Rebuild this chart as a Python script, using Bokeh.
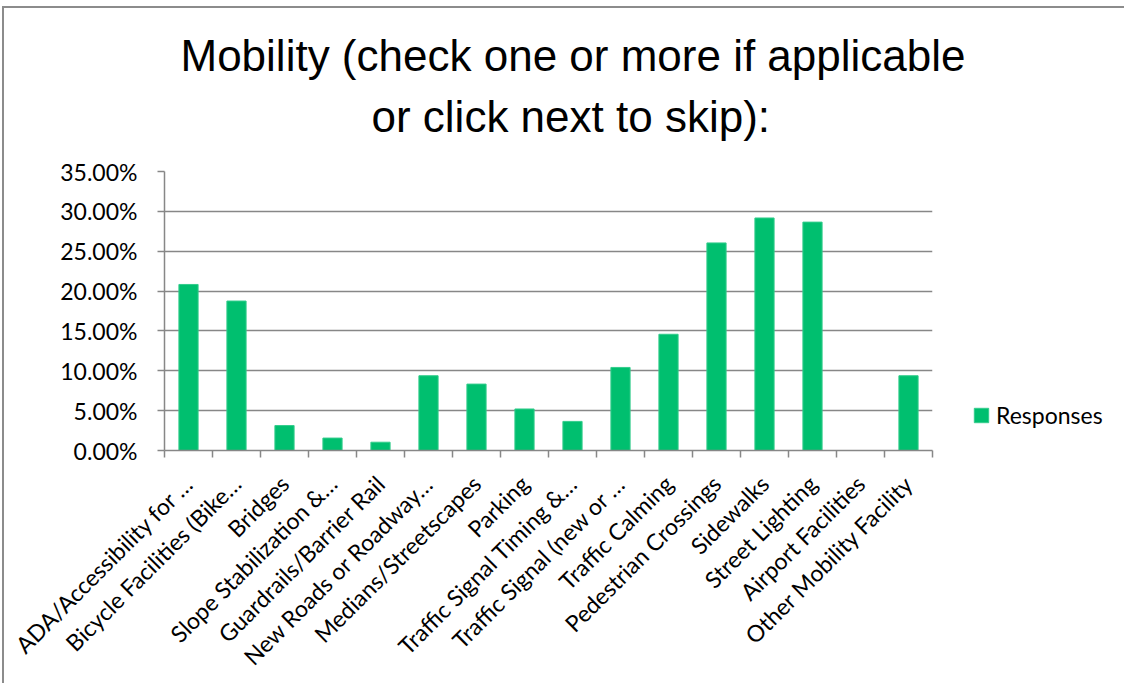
import numpy as np
from bokeh.plotting import figure
from bokeh.models import (ColumnDataSource, Range1d, FixedTicker, NumeralTickFormatter,
                          Title, Legend, LegendItem)
from bokeh.embed import file_html
from bokeh.resources import INLINE

# ---- data ----
categories = [
    "ADA/Accessibility for …",
    "Bicycle Facilities (Bike…",
    "Bridges",
    "Slope Stabilization &…",
    "Guardrails/Barrier Rail",
    "New Roads or Roadway…",
    "Medians/Streetscapes",
    "Parking",
    "Traffic Signal Timing &…",
    "Traffic Signal (new or …",
    "Traffic Calming",
    "Pedestrian Crossings",
    "Sidewalks",
    "Street Lighting",
    "Airport Facilities",
    "Other Mobility Facility",
]
responses = [0.2083, 0.1875, 0.0313, 0.0156, 0.0104, 0.0938, 0.0833, 0.0521,
             0.0365, 0.1042, 0.1458, 0.2604, 0.2917, 0.2865, 0.0, 0.0938]
y_ticks = [0.0, 0.05, 0.10, 0.15, 0.20, 0.25, 0.30, 0.35]
title_lines = ["Mobility (check one or more if applicable", "or click next to skip):"]
series_name = "Responses"

GREEN = "#00BF6F"
GRAY = "#878787"
FONT = "Lato"
FS = "23px"

x = np.arange(len(categories)) + 0.5
src = ColumnDataSource(dict(x=x, y=responses, cat=categories))

# chart-area frame lines (top and left) drawn as a CSS background behind a
# transparent canvas
frame_css = {
    "background-image": "linear-gradient(#8c8c8c, #8c8c8c), linear-gradient(#8c8c8c, #8c8c8c)",
    "background-position": "2px 6px, 2px 6px",
    "background-size": "2px 100%, 100% 2px",
    "background-repeat": "no-repeat",
}

p = figure(frame_width=768, frame_height=279,
           min_border_left=164, min_border_right=188,
           min_border_top=171, min_border_bottom=230,
           x_range=Range1d(0, len(categories)), y_range=Range1d(0, max(y_ticks)),
           title=None, output_backend="svg", toolbar_location=None,
           styles=frame_css)
p.outline_line_color = None
p.background_fill_color = "white"
p.border_fill_alpha = 0

r = p.vbar(x="x", top="y", width=0.4, source=src,
           fill_color=GREEN, line_color="#33cc8c", line_width=1)

# x axis: boundary ticks via minor ticks, labels at centers
xa = p.xaxis[0]
xa.ticker = FixedTicker(ticks=list(x), minor_ticks=list(range(len(categories) + 1)))
xa.major_label_overrides = {float(xi): c for xi, c in zip(x, categories)}
xa.major_label_orientation = np.pi / 4
xa.major_tick_in = 0
xa.major_tick_out = 0
xa.major_tick_line_color = None
xa.minor_tick_in = 0
xa.minor_tick_out = 7
xa.minor_tick_line_color = GRAY
xa.minor_tick_line_width = 1.5
xa.axis_line_color = GRAY
xa.axis_line_width = 1.5
xa.major_label_standoff = 22
xa.major_label_text_font = FONT
xa.major_label_text_font_size = FS
xa.major_label_text_color = "black"
p.xgrid.visible = False

ya = p.yaxis[0]
ya.ticker = FixedTicker(ticks=y_ticks)
ya.formatter = NumeralTickFormatter(format="0.00%")
ya.major_tick_in = 0
ya.major_tick_out = 7
ya.major_tick_line_color = GRAY
ya.major_tick_line_width = 1.5
ya.minor_tick_line_color = None
ya.axis_line_color = GRAY
ya.axis_line_width = 1.5
ya.major_label_standoff = 20
ya.major_label_text_font = FONT
ya.major_label_text_font_size = FS
ya.major_label_text_color = "black"
p.ygrid.ticker = FixedTicker(ticks=y_ticks)
p.ygrid.grid_line_color = GRAY
p.ygrid.grid_line_width = 1.5

# title: two lines, the second one nearest the plot
t2 = Title(text=title_lines[1], align="left", offset=207, standoff=62,
           text_font="Liberation Sans", text_font_size="44px",
           text_font_style="normal", text_color="black")
t1 = Title(text=title_lines[0], align="left", offset=16, standoff=-43,
           text_font="Liberation Sans", text_font_size="44px",
           text_font_style="normal", text_color="black")
p.add_layout(t2, "above")
p.add_layout(t1, "above")

legend = Legend(items=[LegendItem(label=series_name, renderers=[r])],
                location=(40, 21), glyph_width=18, glyph_height=18,
                label_standoff=6, padding=0, margin=0, spacing=0,
                border_line_color=None, background_fill_alpha=0,
                label_text_font=FONT, label_text_font_size=FS,
                label_text_color="black", label_height=18)
p.add_layout(legend, "right")

open("out.html", "w").write(file_html(p, INLINE))
